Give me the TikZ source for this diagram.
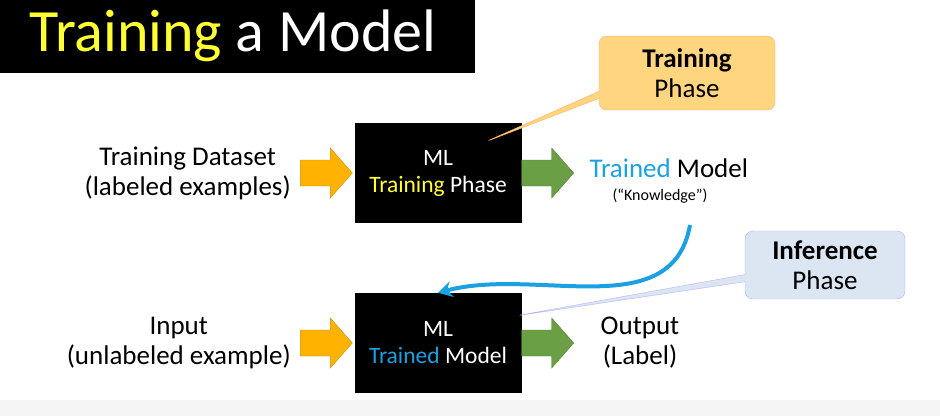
\documentclass[tikz,border=0pt]{standalone}
\usepackage{fontspec}
\setmainfont{Carlito}
\usetikzlibrary{positioning,shapes.callouts,arrows.meta}
\definecolor{ttlyellow}{HTML}{FFFF33}
\definecolor{arrorange}{HTML}{FFB300}
\definecolor{arrgreen}{HTML}{6A9F45}
\definecolor{mlblue}{HTML}{1BA1E2}
\definecolor{calorange}{HTML}{FFD580}
\definecolor{calblue}{HTML}{DCE6F2}
\tikzset{
  mlbox/.style={fill=black,text=white,minimum width=167pt,minimum height=100pt,align=center,font=\fontsize{23.5}{27}\selectfont},
  blockarrow/.style={draw=#1!80!black,fill=#1},
  lbl/.style={align=center,font=\fontsize{27}{30}\selectfont}
}
\newcommand{\blockarr}[2]{\filldraw[blockarrow=#2] (#1) ++(0,-13) -- ++(30,0) -- ++(0,-12) -- ++(22,25) -- ++(-22,25) -- ++(0,-12) -- ++(-30,0) -- cycle;}
\begin{document}
\begin{tikzpicture}[x=1pt,y=-1pt]
  \useasboundingbox (0,0) rectangle (940,416);
  \fill[gray!8] (0,400) rectangle (940,416);
  % title
  \fill[black] (0,0) rectangle (475,73);
  \node[anchor=west,font=\fontsize{60}{66}\selectfont] (title) at (26,36) {\textcolor{ttlyellow}{Training} \textcolor{white}{a Model}};

  % training phase
  \node[mlbox] (train) at (438,173) {ML\\\textcolor{ttlyellow}{Training} Phase};
  \coordinate[left=54pt of train.west] (tin);
  \coordinate (tout) at (train.east);
  \blockarr{tin}{arrorange}
  \blockarr{tout}{arrgreen}
  \node[lbl,left=6pt of tin] (data) {Training Dataset\\(labeled examples)};
  \node[lbl,anchor=west] (model) at (586,168) {\textcolor{mlblue}{Trained} Model};
  \node[font=\fontsize{16}{18}\selectfont] (know) at (660,196) {(``Knowledge'')};

  % inference phase
  \node[mlbox] (infer) at (438,343) {ML\\\textcolor{mlblue}{Trained} Model};
  \coordinate[left=54pt of infer.west] (iin);
  \coordinate (iout) at (infer.east);
  \blockarr{iin}{arrorange}
  \blockarr{iout}{arrgreen}
  \node[lbl,left=6pt of iin] (input) {Input\\(unlabeled example)};
  \node[lbl] (output) at (640,343) {Output\\(Label)};

  % callouts
  \coordinate (ctip) at (485,142);
  \node[rectangle callout,rounded corners=8pt,draw=orange!60,fill=calorange,lbl,minimum width=176pt,minimum height=74pt,
        callout absolute pointer={(ctip)}] (tcall) at (687,73) {\textbf{Training}\\Phase};
  \coordinate (itip) at (515,316);
  \node[rectangle callout,rounded corners=8pt,draw=blue!30,fill=calblue,lbl,minimum width=160pt,minimum height=68pt,
        callout absolute pointer={(itip)}] (icall) at (825,265) {\textbf{Inference}\\Phase};

  % link
  \coordinate (lstart) at (690,225);
  \draw[mlblue,line width=4pt,-{Stealth[length=14pt,width=16pt]}] (lstart) to[out=-100,in=15] (infer.north);
\end{tikzpicture}
\end{document}
